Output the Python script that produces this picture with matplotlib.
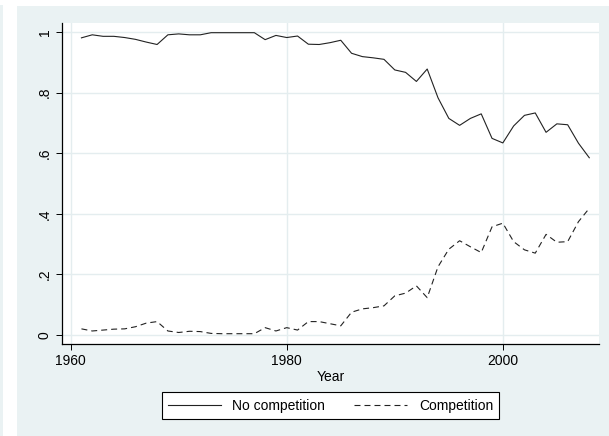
import matplotlib
matplotlib.use("Agg")
import matplotlib.pyplot as plt
from matplotlib.patches import Rectangle
from matplotlib.ticker import FixedLocator, FixedFormatter

plt.rcParams['font.family'] = ['Liberation Sans', 'DejaVu Sans']
plt.rcParams['lines.scale_dashes'] = False

years = list(range(1961, 2009))
no_competition = [0.981, 0.991, 0.986, 0.986, 0.982, 0.976, 0.967, 0.959, 0.991, 0.994,
                  0.991, 0.991, 0.998, 0.998, 0.998, 0.998, 0.998, 0.975, 0.989, 0.982,
                  0.987, 0.960, 0.959, 0.965, 0.973, 0.930, 0.919, 0.915, 0.910, 0.875,
                  0.867, 0.837, 0.878, 0.783, 0.715, 0.692, 0.715, 0.730, 0.649, 0.634,
                  0.690, 0.725, 0.733, 0.669, 0.697, 0.694, 0.633, 0.585]
competition = [0.020, 0.013, 0.016, 0.019, 0.020, 0.027, 0.039, 0.044, 0.013, 0.008,
               0.012, 0.011, 0.005, 0.004, 0.004, 0.004, 0.004, 0.024, 0.013, 0.024,
               0.016, 0.044, 0.044, 0.037, 0.030, 0.075, 0.086, 0.090, 0.096, 0.129,
               0.138, 0.162, 0.123, 0.225, 0.283, 0.311, 0.291, 0.272, 0.357, 0.369,
               0.308, 0.281, 0.270, 0.332, 0.306, 0.308, 0.374, 0.418]
xticks = [1960, 1980, 2000]
yticks = [0, 0.2, 0.4, 0.6, 0.8, 1.0]
ytick_labels = ["0", ".2", ".4", ".6", ".8", "1"]
series_labels = ["No competition", "Competition"]
xlabel = "Year"

W, H = 609, 436
BG = '#EAF2F3'
GRID = '#E4EDEF'
fig = plt.figure(figsize=(W / 100, H / 100), dpi=100)
fig.patch.set_facecolor('white')
fig.patches.append(Rectangle((0, 0), 3 / W, (H - 5) / H, transform=fig.transFigure,
                             facecolor=BG, edgecolor='none', zorder=-10))
fig.patches.append(Rectangle((17 / W, 0), (W - 17) / W, (H - 6) / H, transform=fig.transFigure,
                             facecolor=BG, edgecolor='none', zorder=-10))

left, right, top, bottom = 62, 599, 23, 344
ax = fig.add_axes([left / W, (H - bottom) / H, (right - left) / W, (bottom - top) / H])
ax.set_facecolor('white')

ax.plot(years, no_competition, color='#222222', lw=0.8, solid_joinstyle='round')
ax.plot(years, competition, color='#222222', lw=0.8, linestyle=(0, (4.3, 2.9)))

ax.set_xlim(1959.2, 2008.9)
ax.set_ylim(-0.03, 1.03)
ax.xaxis.set_major_locator(FixedLocator(xticks))
ax.set_xticklabels([str(x) for x in xticks])
ax.yaxis.set_major_locator(FixedLocator(yticks))
ax.yaxis.set_major_formatter(FixedFormatter(ytick_labels))
for lab in ax.get_yticklabels():
    lab.set_rotation(90)
    lab.set_va('center')
    lab.set_ha('right')

ax.grid(True, color=GRID, lw=1.0)
ax.set_axisbelow(True)
for s in ['top', 'right']:
    ax.spines[s].set_visible(False)
for s in ['left', 'bottom']:
    ax.spines[s].set_color('black')
    ax.spines[s].set_linewidth(0.9)
ax.tick_params(axis='both', direction='out', length=4.3, width=0.7, color='black',
               labelsize=10, labelcolor='black')
ax.tick_params(axis='y', pad=3)
ax.tick_params(axis='x', pad=3)

ax.set_xlabel(xlabel, fontsize=10, labelpad=1)

leg = fig.legend(series_labels, loc='center', ncol=2,
                 bbox_to_anchor=((left + right) / 2 / W, (H - 405.5) / H),
                 fontsize=10, handlelength=3.8, handletextpad=0.85, columnspacing=2.1,
                 fancybox=False, frameon=True, borderpad=0.45)
leg.get_frame().set_edgecolor('black')
leg.get_frame().set_linewidth(0.8)
leg.get_frame().set_facecolor('white')
leg.get_frame().set_alpha(1)

fig.savefig('out.png', dpi=100, facecolor=fig.get_facecolor())
